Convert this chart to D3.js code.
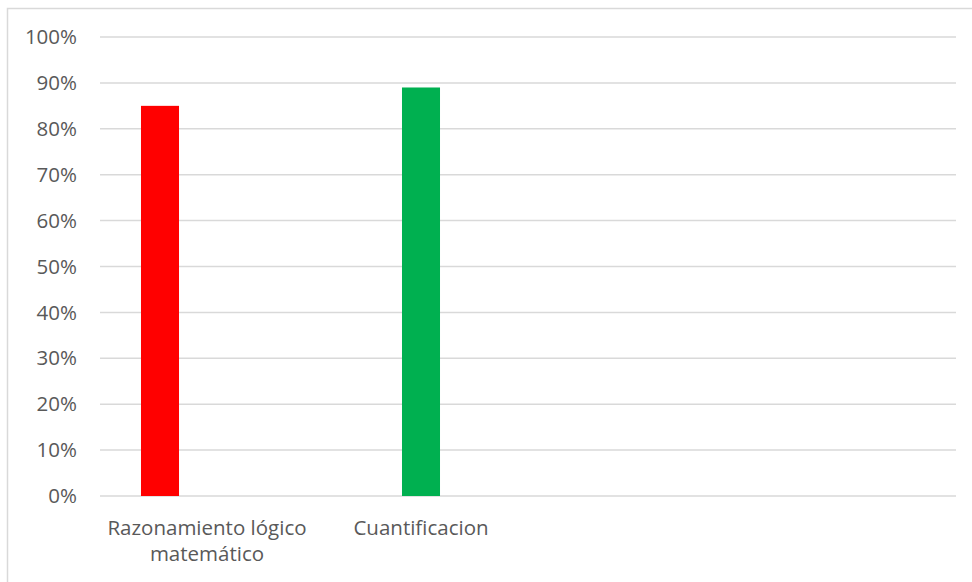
<!DOCTYPE html>
<html>
<head>
<meta charset="utf-8">
<script src="https://cdn.jsdelivr.net/npm/d3@7"></script>
<style>
  body { margin: 0; background: #fff; }
  text { font-family: "Open Sans", sans-serif; fill: #595959; }
</style>
</head>
<body>
<svg id="chart" width="972" height="582"></svg>
<script>
// categories on the x axis (the last two are empty slots)
const categories = ["Razonamiento lógico matemático", "Cuantificacion", " ", "  "];
// series names and their values per category (null = no bar)
const seriesNames = ["s1", "s2", "s3"];
const seriesColors = ["#ff0000", "#00b050", "#4472c4"];
const s1Values = [0.85, null, null, null];
const s2Values = [null, 0.89, null, null];
const s3Values = [null, null, null, null];
const yTicks = [0, 0.1, 0.2, 0.3, 0.4, 0.5, 0.6, 0.7, 0.8, 0.9, 1.0];

const allValues = [s1Values, s2Values, s3Values];

const svg = d3.select("#chart");
const plotLeft = 100, plotRight = 956, plotTop = 37, plotBottom = 496;
const FONT = "20.5px";

// chart border
svg.append("rect")
  .attr("x", 7.5).attr("y", 8.5)
  .attr("width", 1000).attr("height", 1000)
  .attr("fill", "none")
  .attr("stroke", "#d9d9d9")
  .attr("stroke-width", 1.5);

const x0 = d3.scaleBand().domain(categories).range([plotLeft, plotRight]).padding(0);
const x1 = d3.scaleBand().domain(seriesNames)
  .range([0, x0.bandwidth()])
  .paddingInner(0.191)
  .paddingOuter(0.872);
const y = d3.scaleLinear().domain([0, 1]).range([plotBottom, plotTop]);

// gridlines
svg.append("g").selectAll("line")
  .data(yTicks)
  .enter()
  .append("line")
  .attr("x1", plotLeft).attr("x2", plotRight)
  .attr("y1", function(d) { return y(d); })
  .attr("y2", function(d) { return y(d); })
  .attr("stroke", "#d9d9d9")
  .attr("stroke-width", 1.5);

// y tick labels
svg.append("g").selectAll("text")
  .data(yTicks)
  .enter()
  .append("text")
  .attr("x", 77)
  .attr("y", function(d) { return y(d); })
  .attr("dy", "0.35em")
  .attr("text-anchor", "end")
  .style("font-size", FONT)
  .text(d3.format(".0%"));

// bars
const barData = [];
categories.forEach(function(c, i) {
  seriesNames.forEach(function(s, j) {
    if (allValues[j][i] !== null) {
      barData.push({ cat: c, series: s, value: allValues[j][i], color: seriesColors[j] });
    }
  });
});

svg.append("g").selectAll("rect")
  .data(barData)
  .enter()
  .append("rect")
  .attr("x", function(d) { return x0(d.cat) + x1(d.series); })
  .attr("width", x1.bandwidth())
  .attr("y", function(d) { return y(d.value); })
  .attr("height", function(d) { return y(0) - y(d.value); })
  .attr("fill", function(d) { return d.color; });

// category labels, wrapped to fit the band
const catLabels = svg.append("g").selectAll("text")
  .data(categories)
  .enter()
  .append("text")
  .attr("text-anchor", "middle")
  .style("font-size", FONT)
  .attr("x", function(d) { return x0(d) + x0.bandwidth() / 2; })
  .attr("y", 535);

catLabels.each(function(d) {
  const t = d3.select(this);
  const words = d.trim().split(" ");
  let lines = [];
  let line = [];
  words.forEach(function(w) {
    line.push(w);
    t.text(line.join(" "));
    if (textLen(t) > x0.bandwidth() - 4 && line.length > 1) {
      line.pop();
      lines.push(line.join(" "));
      line = [w];
    }
  });
  lines.push(line.join(" "));
  t.text(null);
  lines.forEach(function(l, i) {
    t.append("tspan")
      .attr("x", t.attr("x"))
      .attr("dy", i === 0 ? 0 : 26)
      .text(l);
  });
});

function textLen(sel) {
  return sel.node().getComputedTextLength();
}
</script>
</body>
</html>
